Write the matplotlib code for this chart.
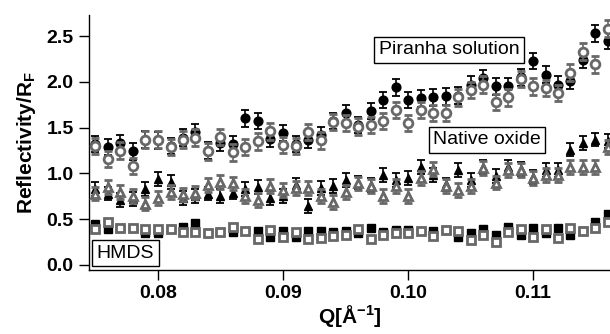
import numpy as np
import matplotlib
matplotlib.use("Agg")
import matplotlib.pyplot as plt

plt.rcParams['font.family'] = ['Liberation Sans', 'DejaVu Sans']
plt.rcParams['mathtext.fontset'] = 'custom'
plt.rcParams['mathtext.rm'] = 'Liberation Sans'
plt.rcParams['mathtext.bf'] = 'Liberation Sans:bold'

q = [0.075 + 0.001 * i for i in range(42)]

piranha_black = [1.32, 1.29, 1.33, 1.24, 1.37, 1.36, 1.30, 1.39, 1.45, 1.25,
                 1.33, 1.32, 1.60, 1.57, 1.38, 1.44, 1.32, 1.37, 1.42, 1.57,
                 1.66, 1.53, 1.68, 1.80, 1.94, 1.80, 1.82, 1.83, 1.84, 1.85,
                 1.97, 2.04, 1.95, 1.95, 2.05, 2.23, 2.08, 1.97, 2.01, 2.24,
                 2.53, 2.45]
piranha_gray = [1.30, 1.16, 1.25, 1.08, 1.37, 1.37, 1.29, 1.37, 1.39, 1.24,
                1.40, 1.23, 1.29, 1.35, 1.46, 1.31, 1.30, 1.45, 1.36, 1.56,
                1.55, 1.51, 1.53, 1.57, 1.69, 1.55, 1.69, 1.66, 1.66, 1.83,
                1.91, 1.97, 1.78, 1.83, 2.03, 1.95, 1.93, 1.88, 2.10, 2.33,
                2.19, 2.58]
native_black = [0.83, 0.78, 0.71, 0.72, 0.83, 0.94, 0.91, 0.73, 0.75, 0.78,
                0.75, 0.79, 0.83, 0.85, 0.73, 0.75, 0.87, 0.64, 0.84, 0.86,
                0.93, 0.90, 0.87, 0.98, 0.93, 0.95, 1.07, 0.98, 0.88, 1.04,
                0.93, 1.07, 0.97, 1.07, 1.05, 0.96, 1.04, 1.04, 1.26, 1.33,
                1.37, 1.35]
native_gray = [0.78, 0.85, 0.80, 0.75, 0.67, 0.73, 0.80, 0.77, 0.79, 0.87,
               0.91, 0.89, 0.75, 0.71, 0.86, 0.82, 0.84, 0.84, 0.75, 0.69,
               0.80, 0.89, 0.86, 0.75, 0.86, 0.75, 0.95, 1.05, 0.86, 0.82,
               0.86, 1.06, 0.90, 1.04, 1.04, 0.95, 0.98, 0.98, 1.07, 1.07,
               1.07, 1.29]
hmds_black = [0.45, 0.39, 0.40, 0.40, 0.35, 0.35, 0.39, 0.42, 0.46, 0.35,
              0.36, 0.36, 0.37, 0.37, 0.30, 0.37, 0.30, 0.37, 0.37, 0.36,
              0.37, 0.35, 0.40, 0.36, 0.38, 0.38, 0.37, 0.37, 0.38, 0.31,
              0.35, 0.39, 0.33, 0.42, 0.33, 0.40, 0.35, 0.40, 0.33, 0.37,
              0.47, 0.56]
hmds_gray = [0.39, 0.47, 0.40, 0.40, 0.39, 0.39, 0.39, 0.36, 0.36, 0.35,
             0.36, 0.42, 0.37, 0.28, 0.38, 0.30, 0.36, 0.28, 0.29, 0.32,
             0.33, 0.39, 0.28, 0.33, 0.35, 0.35, 0.37, 0.32, 0.38, 0.37,
             0.27, 0.33, 0.25, 0.36, 0.39, 0.31, 0.39, 0.29, 0.40, 0.37,
             0.40, 0.47]

err_piranha = 0.09
err_native = 0.075
err_hmds = 0.03

labels = ["Piranha solution", "Native oxide", "HMDS"]
xticks = [0.08, 0.09, 0.10, 0.11]
xticklabels = ["0.08", "0.09", "0.10", "0.11"]
yticks = [0.0, 0.5, 1.0, 1.5, 2.0, 2.5]

GRAY = '#686868'

fig = plt.figure(figsize=(6.10, 3.34), dpi=100)
ax = fig.add_axes([89/610, 64/334, (610-89)/610, 255/334])

def black(y, err, m):
    ax.errorbar(q, y, yerr=err, fmt=m, color='black', ms=6.3, mec='black', mfc='black',
                ecolor='black', elinewidth=1.2, capsize=3.2, capthick=1.3, zorder=2)

def gray(y, err, m):
    ax.errorbar(q, y, yerr=err, fmt=m, color=GRAY, ms=6.3, mec=GRAY, mfc='white',
                mew=2, ecolor=GRAY, elinewidth=1.2, capsize=3.2, capthick=1.3, zorder=3)

black(piranha_black, err_piranha, 'o')
gray(piranha_gray, err_piranha, 'o')
black(native_black, err_native, '^')
gray(native_gray, err_native, '^')
black(hmds_black, err_hmds, 's')
gray(hmds_gray, err_hmds, 's')

ax.set_xlim(0.07448, 0.11616)
ax.set_ylim(-0.055, 2.73)
ax.set_xticks(xticks)
ax.set_xticklabels(xticklabels)
ax.set_yticks(yticks)
ax.set_yticklabels([f"{v:.1f}" for v in yticks])
for s in ['top', 'right']:
    ax.spines[s].set_visible(False)
ax.spines['left'].set_linewidth(1.0)
ax.spines['bottom'].set_linewidth(1.0)
ax.tick_params(direction='out', length=7, width=1.0, labelsize=14, pad=4)
for t in ax.get_xticklabels() + ax.get_yticklabels():
    t.set_fontweight('bold')

ax.set_ylabel(r'Reflectivity/R$_{\mathbf{F}}$', fontsize=15, fontweight='bold', labelpad=6)
ax.set_xlabel(r'Q[Å$^{\mathbf{-1}}$]', fontsize=15, fontweight='bold', labelpad=1)

box = dict(boxstyle='square,pad=0.22', fc='white', ec='black', lw=1.0)
ax.text(0.10328, 2.35, labels[0], fontsize=14, ha='center', va='center', bbox=box, zorder=5)
ax.text(0.10632, 1.366, labels[1], fontsize=14, ha='center', va='center', bbox=box, zorder=5)
ax.text(0.07740, 0.13, labels[2], fontsize=14, ha='center', va='center', bbox=box, zorder=5)

fig.savefig('out.png', dpi=100)
